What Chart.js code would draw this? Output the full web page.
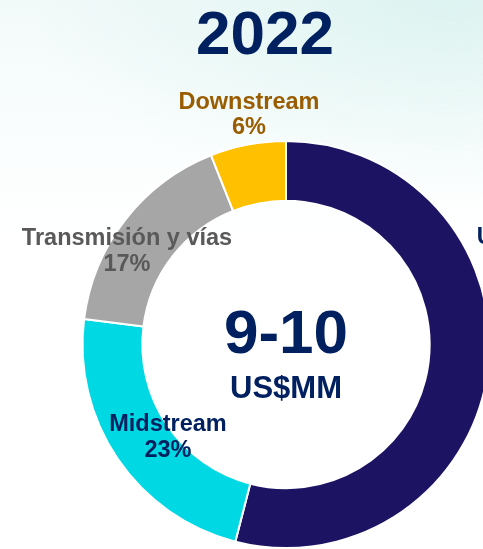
<!DOCTYPE html>
<html>
<head>
<meta charset="utf-8">
<title>2022</title>
<script src="https://cdn.jsdelivr.net/npm/chart.js@4.4.1/dist/chart.umd.min.js"></script>
<style>
  html, body {
    margin: 0;
    padding: 0;
    width: 483px;
    height: 549px;
    overflow: hidden;
  }
  body {
    background:
      radial-gradient(ellipse 420px 200px at 450px 0px, rgba(210, 240, 236, 0.65), rgba(210, 240, 236, 0) 100%),
      linear-gradient(180deg, #f2faf9 0px, #fbfefe 150px, #ffffff 250px);
  }
  #wrap {
    position: absolute;
    left: 0;
    top: 0;
    width: 572px;
    height: 549px;
  }
</style>
</head>
<body>
<div id="wrap"><canvas id="inversion_chart" width="572" height="549"></canvas></div>
<script>
// inversion 2022 por segmento (%)
const segment_labels = ['Upstream', 'Midstream', 'Transmisión y vías', 'Downstream']
const segment_values = [54, 23, 17, 6]
const segment_colors = ['#1c1463', '#00d9e3', '#a6a6a6', '#ffc000']
const label_colors   = ['#002060', '#002060', '#595959', '#9a5c00']

const chart_year   = '2022'
const center_value = '9-10'
const center_unit  = 'US$MM'

// label offsets from the doughnut centre: [dx, dy of name line, dy of % line]
const label_offsets = [
  [245, -101, -75],
  [-118, 86, 112],
  [-159, -100, -74],
  [-37, -236, -211]
]

const FONT = '"Liberation Sans", Arial, sans-serif'

const text_plugin = {
  id: 'text_plugin',
  afterDatasetsDraw(chart) {
    const ctx = chart.ctx
    const arc = chart.getDatasetMeta(0).data[0]
    const cx = arc.x
    const cy = arc.y

    ctx.save()
    ctx.textAlign = 'center'
    ctx.textBaseline = 'alphabetic'

    // year heading
    ctx.fillStyle = '#002060'
    ctx.font = `bold 62px ${FONT}`
    ctx.fillText(chart_year, cx - 21, cy - 291)

    // total in the hole
    ctx.font = `bold 62px ${FONT}`
    ctx.fillText(center_value, cx, cy + 8)
    ctx.font = `bold 31px ${FONT}`
    ctx.fillText(center_unit, cx, cy + 53)

    // segment labels
    ctx.font = `bold 23.5px ${FONT}`
    segment_labels.forEach((name, i) => {
      const [dx, dy1, dy2] = label_offsets[i]
      ctx.fillStyle = label_colors[i]
      ctx.fillText(name, cx + dx, cy + dy1)
      ctx.fillText(segment_values[i] + '%', cx + dx, cy + dy2)
    })
    ctx.restore()
  }
}

const ctx = document.getElementById('inversion_chart').getContext('2d')

const chart = new Chart(ctx, {
  type: 'doughnut',
  data: {
    labels: segment_labels,
    datasets: [{
      data: segment_values,
      backgroundColor: segment_colors,
      borderColor: '#ffffff',
      borderWidth: 2,
      hoverOffset: 0
    }]
  },
  options: {
    responsive: false,
    animation: false,
    cutout: '70.6%',
    rotation: 0,
    layout: {
      padding: { top: 140, bottom: 0, left: 0, right: 0 }
    },
    plugins: {
      legend: { display: false },
      title: { display: false },
      tooltip: { enabled: false }
    }
  },
  plugins: [text_plugin]
})
</script>
</body>
</html>
